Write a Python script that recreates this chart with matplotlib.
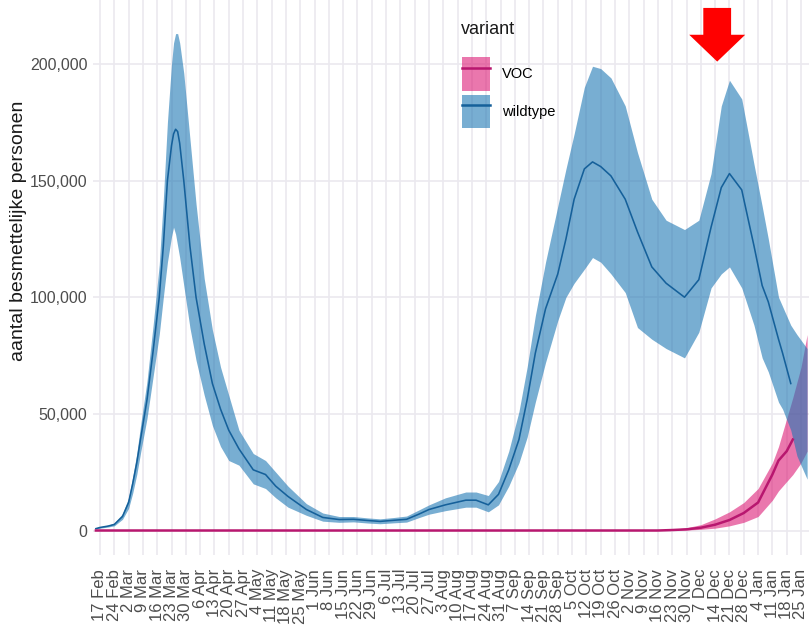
import numpy as np
import pandas as pd
import matplotlib
matplotlib.use("Agg")
import matplotlib.pyplot as plt
import matplotlib.dates as mdates
from matplotlib.patches import Patch, Polygon
from matplotlib.lines import Line2D
from matplotlib.ticker import FuncFormatter

plt.rcParams['font.family'] = ['Liberation Sans', 'DejaVu Sans']

# wildtype: dates, lower / median / upper (thousands of persons)
wt_dates = ["2020-02-15", "2020-02-17", "2020-02-21", "2020-02-24", "2020-02-28",
            "2020-03-02", "2020-03-04", "2020-03-06", "2020-03-08", "2020-03-11",
            "2020-03-14", "2020-03-17", "2020-03-19", "2020-03-21", "2020-03-23",
            "2020-03-24", "2020-03-25", "2020-03-26", "2020-03-27", "2020-03-29",
            "2020-04-01", "2020-04-04", "2020-04-08", "2020-04-12", "2020-04-16",
            "2020-04-20", "2020-04-25", "2020-05-02", "2020-05-08", "2020-05-13",
            "2020-05-19", "2020-05-28", "2020-06-05", "2020-06-13", "2020-06-20",
            "2020-06-27", "2020-07-03", "2020-07-10", "2020-07-16", "2020-07-22",
            "2020-07-27", "2020-08-04", "2020-08-14", "2020-08-19", "2020-08-25",
            "2020-08-30", "2020-09-04", "2020-09-09", "2020-09-13", "2020-09-17",
            "2020-09-22", "2020-09-28", "2020-10-02", "2020-10-06", "2020-10-11",
            "2020-10-15", "2020-10-19", "2020-10-24", "2020-10-31", "2020-11-06",
            "2020-11-13", "2020-11-20", "2020-11-29", "2020-12-06", "2020-12-12",
            "2020-12-17", "2020-12-21", "2020-12-27", "2021-01-02", "2021-01-06",
            "2021-01-09", "2021-01-14", "2021-01-16", "2021-01-20", "2021-01-23",
            "2021-01-28"]
wt_median = [0.8, 1.3, 1.9, 2.6, 6, 12, 20, 29, 40, 56,
             77, 100, 122, 150, 165, 170, 172, 171, 166, 150,
             122, 100, 80, 63, 52, 43, 35, 26, 24, 19,
             14.6, 9, 5.6, 4.7, 4.8, 4.3, 3.9, 4.4, 4.8, 7,
             9, 11, 13, 13, 11, 15.5, 26, 39, 56, 76,
             95, 110, 125, 142, 155, 158, 156, 152, 142, 128,
             113, 106, 100, 107.5, 130, 147, 153, 146, 122, 105,
             98, 82, 76, 63, None, None]
wt_lower = [0.6, 1.0, 1.5, 2.0, 4.8, 9.5, 16, 24, 34, 48,
            66, 84, 100, 115, 126, 130, 127, 122, 117, 105,
            87, 73, 58, 45, 36, 30, 28, 20, 18, 14,
            10, 6.5, 4, 3.5, 3.7, 3.2, 2.9, 3.3, 3.6, 5.5,
            7, 8.5, 10, 10, 8, 11, 19, 29, 40, 55,
            72, 90, 100, 106, 112, 117, 115, 110, 102, 87,
            82, 78, 74, 85, 104, 110, 113, 104, 88, 74,
            68, 55, 52, 43, 32, 22]
wt_upper = [1.0, 1.6, 2.3, 3.2, 7.2, 14, 23, 33, 46, 64,
            88, 114, 142, 175, 200, 209, 213, 213, 209, 196,
            168, 140, 108, 86, 70, 58, 43, 33, 30, 25,
            19, 11.5, 7.5, 6, 6, 5.4, 5, 5.6, 6.2, 8.8,
            11, 14, 16.5, 16.5, 15, 21, 34, 51, 70, 92,
            115, 139, 155, 170, 190, 199, 198, 194, 182, 162,
            142, 133, 129, 133, 153, 182, 193, 185, 157, 139,
            125, 100, 96, 88, 84, 78]

# VOC: dates, lower / median / upper (thousands of persons)
voc_dates = ["2020-02-15", "2020-11-16", "2020-11-23", "2020-11-30", "2020-12-07",
             "2020-12-14", "2020-12-21", "2020-12-28", "2021-01-04", "2021-01-11",
             "2021-01-14", "2021-01-18", "2021-01-21", "2021-01-25", "2021-01-28"]
voc_median = [0, 0, 0.2, 0.5, 1.2, 2.5, 4.5, 7.5, 12, 24, 30, 34, 39, None, None]
voc_lower = [0, 0, 0.1, 0.2, 0.5, 1, 2, 3.5, 6, 13, 17, 21, 24, 29, 34]
voc_upper = [0.4, 0.4, 0.5, 1.2, 2.5, 5, 8, 12, 18, 29, 36, 48, 57, 70, 84]

variants = ["VOC", "wildtype"]
y_ticks = [0, 50000, 100000, 150000, 200000]

wt_d = pd.to_datetime(wt_dates)
voc_d = pd.to_datetime(voc_dates)
k = 1000.0
wt_med = np.array(wt_median, dtype=float) * k
voc_med = np.array(voc_median, dtype=float) * k

pink = '#dd1c77'
blue = '#1f78b4'
pink_line = '#b8176f'
blue_line = '#15609a'

fig = plt.figure(figsize=(8.09, 6.30), dpi=100)
ax = fig.add_axes([93 / 809, 1 - 555 / 630, 1 - 93 / 809, 555 / 630])

ax.fill_between(voc_d, np.array(voc_lower) * k, np.array(voc_upper) * k,
                color=pink, alpha=0.6, lw=0)
ax.fill_between(wt_d, np.array(wt_lower) * k, np.array(wt_upper) * k,
                color=blue, alpha=0.6, lw=0)
ax.plot(wt_d, wt_med, color=blue_line, lw=1.15)
ax.plot(voc_d, voc_med, color=pink_line, lw=1.8)

ticks = pd.date_range("2020-02-17", "2021-01-25", freq="7D")
ax.set_xticks(ticks)
ax.set_xticklabels([f"{d.day} {d:%b}" for d in ticks], rotation=90)
ax.set_yticks(y_ticks)
ax.yaxis.set_major_formatter(FuncFormatter(lambda v, p: f"{int(v):,}"))
ax.set_xlim(pd.Timestamp("2020-02-13 14:00"), pd.Timestamp("2021-01-28 22:00"))
ax.set_ylim(-10500, 227400)

ax.grid(True, color='#ebe9ef', lw=1.2)
ax.set_axisbelow(True)
for s in ax.spines.values():
    s.set_visible(False)
ax.tick_params(length=0, colors='#4d4d4d')
ax.tick_params(axis='x', labelsize=12, pad=10)
ax.tick_params(axis='y', labelsize=11.5, pad=4)
ax.set_ylabel("aantal besmettelijke personen", fontsize=14, color='#1a1a1a')
ax.yaxis.set_label_coords(-0.092, 0.584)

# red arrow pointing at 14 Dec
tip = mdates.date2num(pd.Timestamp("2020-12-14")) + 1
arrow = Polygon([(tip, 201000), (tip - 13.7, 212500), (tip - 6.8, 212500),
                 (tip - 6.8, 224000), (tip + 6.8, 224000), (tip + 6.8, 212500),
                 (tip + 13.7, 212500)], closed=True, color='#ff0000', lw=0, zorder=5)
ax.add_patch(arrow)

handles = [(Patch(facecolor=pink, alpha=0.6, lw=0), Line2D([], [], color=pink_line, lw=1.8)),
           (Patch(facecolor=blue, alpha=0.6, lw=0), Line2D([], [], color=blue_line, lw=1.8))]
fig.text(461 / 809, 1 - 21 / 630, "variant", fontsize=13, color='#1a1a1a', va='top', ha='left')
fig.legend(handles, variants, loc='upper left',
           bbox_to_anchor=(462 / 809, 1 - 57 / 630), frameon=False, borderpad=0,
           borderaxespad=0, handlelength=1.9, handleheight=3.2, labelspacing=0.25,
           handletextpad=0.85, fontsize=10.5)

fig.savefig("out.png", dpi=100)
